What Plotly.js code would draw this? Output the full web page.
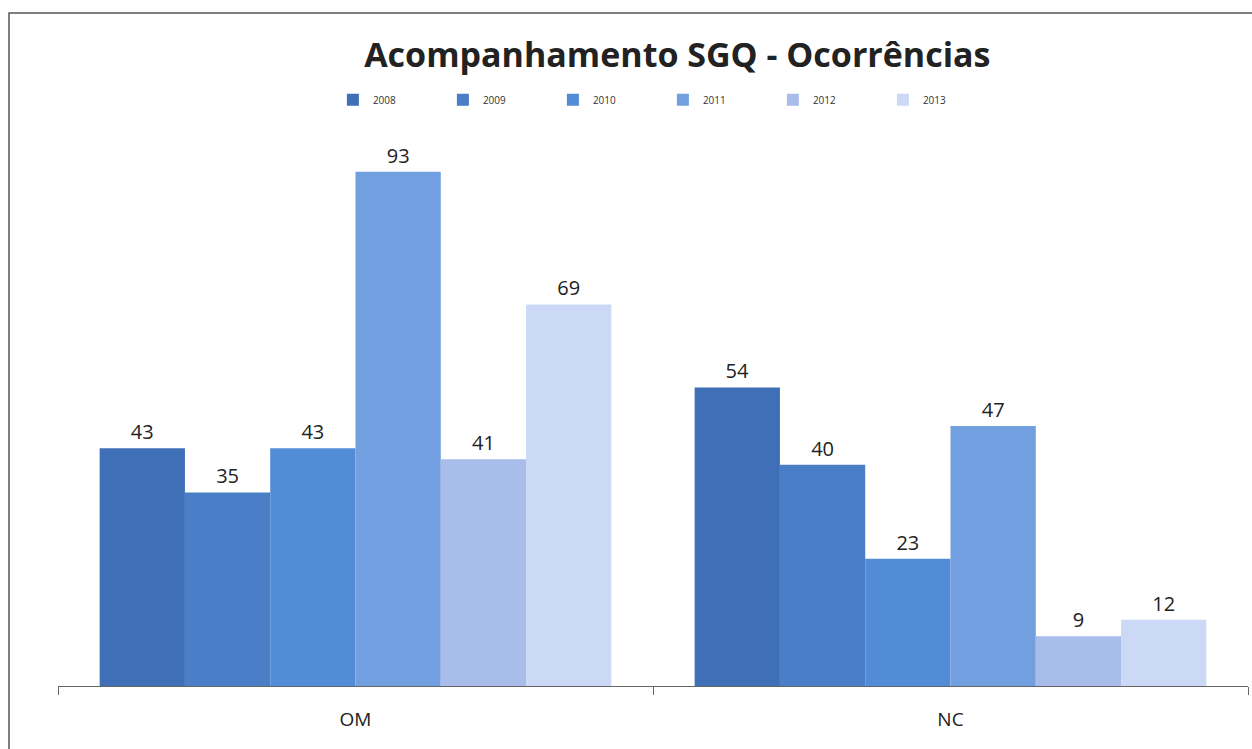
<!DOCTYPE html>
<html>
<head>
<meta charset="utf-8">
<script src="https://cdn.plot.ly/plotly-3.0.1.min.js"></script>
<style>
html,body{margin:0;padding:0;background:#fff;}
#chart{width:1252px;height:749px;}
</style>
</head>
<body>
<div id="chart"></div>
<script>
const categories = ["OM", "NC"];
const years = ["2008", "2009", "2010", "2011", "2012", "2013"];
const values = {
  "2008": [43, 54],
  "2009": [35, 40],
  "2010": [43, 23],
  "2011": [93, 47],
  "2012": [41, 9],
  "2013": [69, 12]
};
const colors = ["#3f6fb6", "#4a7ec6", "#528bd6", "#729fe0", "#a9bdeb", "#cbd9f7"];

const traces = years.map((y, i) => ({
  type: "bar",
  name: y,
  x: categories,
  y: values[y],
  marker: {color: colors[i]},
  text: values[y].map(String),
  textposition: "outside",
  cliponaxis: false,
  textfont: {family: "Open Sans, Liberation Sans, sans-serif", size: 20, color: "#222"},
  hoverinfo: "x+y+name"
}));

const W = 1190, H = 553;
const layout = {
  width: 1252, height: 749,
  margin: {l: 58, r: 4, t: 133, b: 63, autoexpand: false},
  paper_bgcolor: "#fff", plot_bgcolor: "#fff",
  barmode: "group",
  bargap: 0.14,
  bargroupgap: 0,
  title: {
    text: "<b>Acompanhamento SGQ - Ocorrências</b>",
    x: 0.541, xanchor: "center",
    y: 0.926, yanchor: "middle",
    font: {family: "Open Sans, Liberation Sans, sans-serif", size: 34, color: "#222"}
  },
  showlegend: true,
  legend: {
    orientation: "h",
    x: 0.231, xanchor: "left",
    y: 1.06, yanchor: "middle",
    entrywidth: 65, entrywidthmode: "pixels",
    itemwidth: 30,
    font: {family: "Open Sans, Liberation Sans, sans-serif", size: 10, color: "#333"},
    bgcolor: "rgba(0,0,0,0)"
  },
  xaxis: {
    type: "category",
    showline: true, linecolor: "#666", linewidth: 1,
    ticks: "outside", tickson: "boundaries", ticklen: 8, tickcolor: "#666",
    ticklabelstandoff: 16,
    tickfont: {family: "Open Sans, Liberation Sans, sans-serif", size: 19, color: "#222"},
    showgrid: false, zeroline: false, automargin: false
  },
  yaxis: {
    range: [0, 100],
    visible: false, showgrid: false, zeroline: false
  },
  shapes: [{
    type: "rect", xref: "paper", yref: "paper",
    x0: (9 - 58) / W, x1: (1254 - 58) / W,
    y0: (686 - 760) / H, y1: (686 - 13) / H,
    line: {color: "#555", width: 1.5}, fillcolor: "rgba(0,0,0,0)", layer: "below"
  }]
};

Plotly.newPlot("chart", traces, layout, {displayModeBar: false, staticPlot: true});
</script>
</body>
</html>
